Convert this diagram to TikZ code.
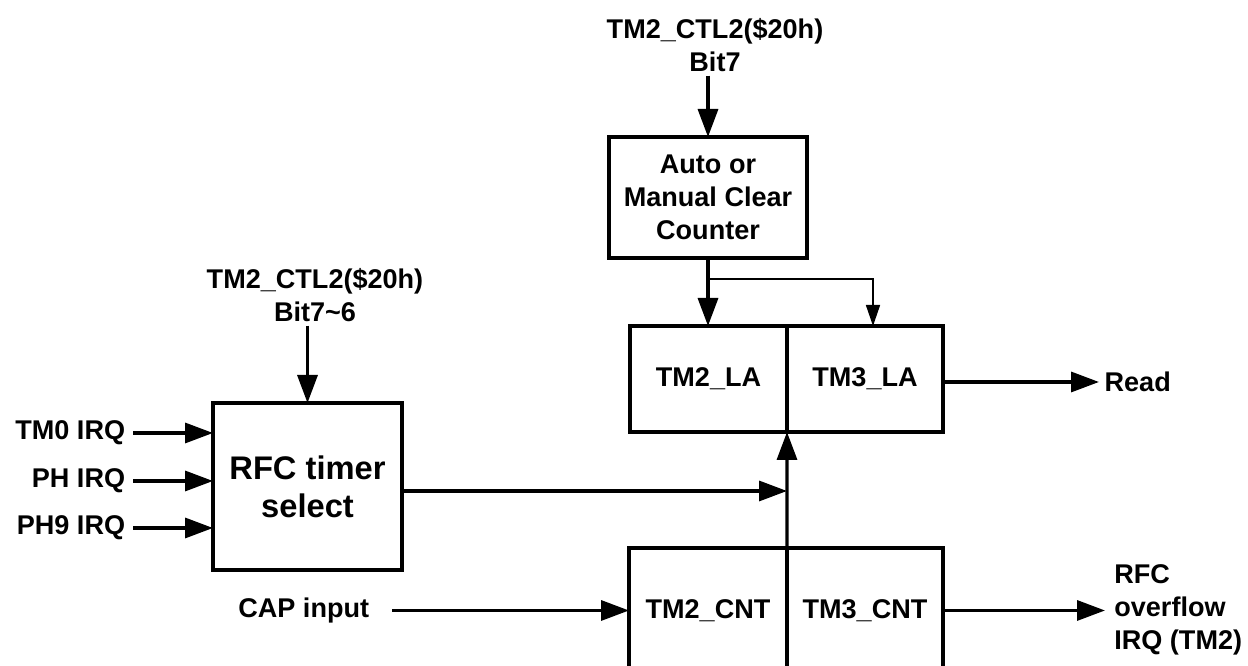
\documentclass[tikz,border=0pt]{standalone}
\usepackage{fontspec}
\setmainfont{Liberation Sans}
\usetikzlibrary{arrows.meta}

\begin{document}
\begin{tikzpicture}[
  txt/.style={font=\bfseries\fontsize{15.4}{18.8}\selectfont, align=center, inner sep=2pt},
  blk/.style={txt, draw, line width=1.9pt, outer sep=0pt},
  sig/.style={line width=1.9pt, -{Triangle[length=0.56cm,width=0.4cm]}},
  thinsig/.style={line width=0.9pt, -{Triangle[length=0.42cm,width=0.28cm]}}
]
  \path[use as bounding box, clip] (0,0) rectangle (24.96,13.32);

  % clear control
  \node[txt] (ctlA) at (14.30,12.42) {TM2\_CTL2(\$20h)\\Bit7};
  \node[blk, minimum width=3.96cm, minimum height=2.42cm] (clr) at (14.16,9.37) {Auto or\\Manual Clear\\Counter};
  \draw[sig] (clr.north |- ctlA.south) -- (clr.north);

  % latches
  \node[blk, minimum width=3.14cm, minimum height=2.12cm] (la2) at (14.17,5.74) {TM2\_LA};
  \node[blk, minimum width=3.12cm, minimum height=2.12cm, anchor=west] (la3) at (la2.east) {TM3\_LA};
  \draw[sig] (clr.south) -- (clr.south |- la2.north);
  \draw[thinsig] (clr.south |- 0,7.74) -| ([xshift=0.16cm]la3.north);
  \node[txt, anchor=west, inner sep=3pt] (rd) at (21.98,5.68) {Read};
  \draw[sig] (la3.east |- rd.west) -- (rd.west);

  % timer select
  \node[txt] (ctlB) at (6.30,7.42) {TM2\_CTL2(\$20h)\\Bit7\textasciitilde 6};
  \node[blk, minimum width=3.78cm, minimum height=3.34cm, font=\bfseries\fontsize{18.6}{21.6}\selectfont] (sel) at (6.15,3.59) {RFC timer\\select};
  \draw[sig] (sel.north |- ctlB.south) -- (sel.north);
  \node[txt, anchor=east] (irqA) at (2.58,4.66) {TM0 IRQ};
  \node[txt, anchor=east] (irqB) at (2.58,3.70) {PH IRQ};
  \node[txt, anchor=east] (irqC) at (2.58,2.76) {PH9 IRQ};
  \draw[sig] ([xshift=0.08cm]irqA.east) -- (irqA.east -| sel.west);
  \draw[sig] ([xshift=0.08cm]irqB.east) -- (irqB.east -| sel.west);
  \draw[sig] ([xshift=0.08cm]irqC.east) -- (irqC.east -| sel.west);

  % counters
  \node[blk, minimum width=3.16cm, minimum height=2.5cm] (cnt2) at (14.16,1.11) {TM2\_CNT};
  \node[blk, minimum width=3.12cm, minimum height=2.5cm, anchor=west] (cnt3) at (cnt2.east) {TM3\_CNT};
  \coordinate (jn) at (15.74,3.50);
  \coordinate (bot) at (15.74,-0.4);
  \draw[sig] (sel.east |- jn) -- (jn);
  \draw[sig] (bot) -- (la2.south east);
  \node[txt, anchor=east] (cap) at (7.46,1.11) {CAP input};
  \draw[sig] ([xshift=0.38cm]cap.east) -- (cnt2.west);
  \node[txt, anchor=west, align=left, inner xsep=0.18cm] (ovf) at (22.1,1.12) {RFC\\overflow\\IRQ (TM2)};
  \draw[sig] (cnt3.east) -- (cnt3.east -| ovf.west);
\end{tikzpicture}
\end{document}
